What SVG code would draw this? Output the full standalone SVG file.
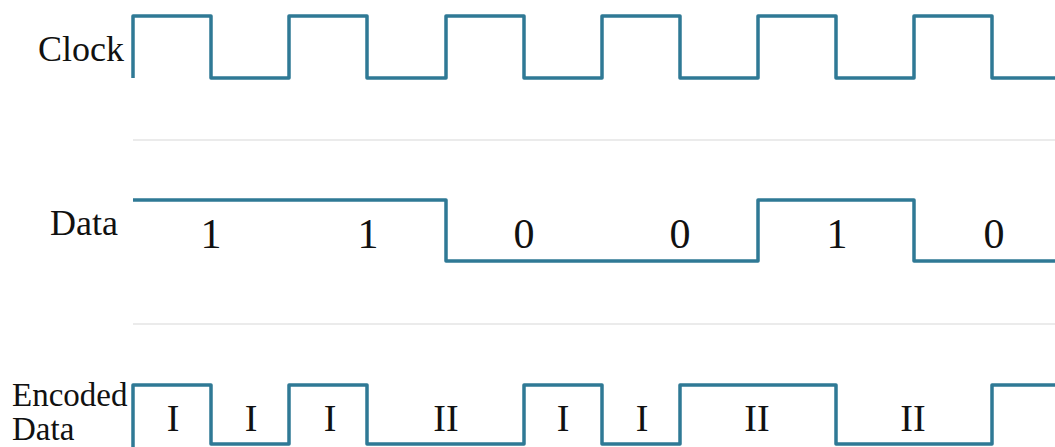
<svg xmlns="http://www.w3.org/2000/svg" width="1055" height="447" viewBox="0 0 1055 447">
<style>
.sig{fill:none;stroke:#2f7995;stroke-width:3.5;stroke-linejoin:round;stroke-linecap:butt}
.sep{stroke:#e4e4e4;stroke-width:1.5}
.lbl{font-family:"Liberation Serif",serif;font-size:36px;fill:#111}
.bit{font-family:"Liberation Serif",serif;font-size:42px;fill:#111;text-anchor:middle}
.enc{font-family:"Liberation Serif",serif;font-size:38px;fill:#111;text-anchor:middle}
</style>
<rect width="1055" height="447" fill="#fff"/>
<g id="separators">
<line class="sep" x1="133" y1="140" x2="1055" y2="140"/>
<line class="sep" x1="133" y1="324" x2="1055" y2="324"/>
</g>
<g id="clock">
<text class="lbl" x="124" y="61" text-anchor="end">Clock</text>
<path class="sig" d="M133,78 V16 H211 V78 H289 V16 H367 V78 H446 V16 H524 V78 H602 V16 H680 V78 H758 V16 H836 V78 H914 V16 H992 V78 H1055"/>
</g>
<g id="data">
<text class="lbl" x="118" y="235" text-anchor="end">Data</text>
<path class="sig" d="M133,200 H446 V261 H758 V200 H914 V261 H1055"/>
<text class="bit" x="211" y="248">1</text>
<text class="bit" x="368" y="248">1</text>
<text class="bit" x="524" y="248">0</text>
<text class="bit" x="680" y="248">0</text>
<text class="bit" x="837" y="248">1</text>
<text class="bit" x="994" y="248">0</text>
</g>
<g id="encoded">
<text class="lbl" style="font-size:33px" x="12" y="406">Encoded</text>
<text class="lbl" style="font-size:33px" x="12" y="440">Data</text>
<path class="sig" d="M133,447 V385 H211 V444 H289 V385 H367 V444 H524 V385 H602 V444 H680 V385 H836 V444 H992 V385 H1055"/>
<text class="enc" x="173" y="431">I</text>
<text class="enc" x="251" y="431">I</text>
<text class="enc" x="330" y="431">I</text>
<text class="enc" x="446" y="431">II</text>
<text class="enc" x="563" y="431">I</text>
<text class="enc" x="642" y="431">I</text>
<text class="enc" x="757" y="431">II</text>
<text class="enc" x="913" y="431">II</text>
</g>
</svg>
